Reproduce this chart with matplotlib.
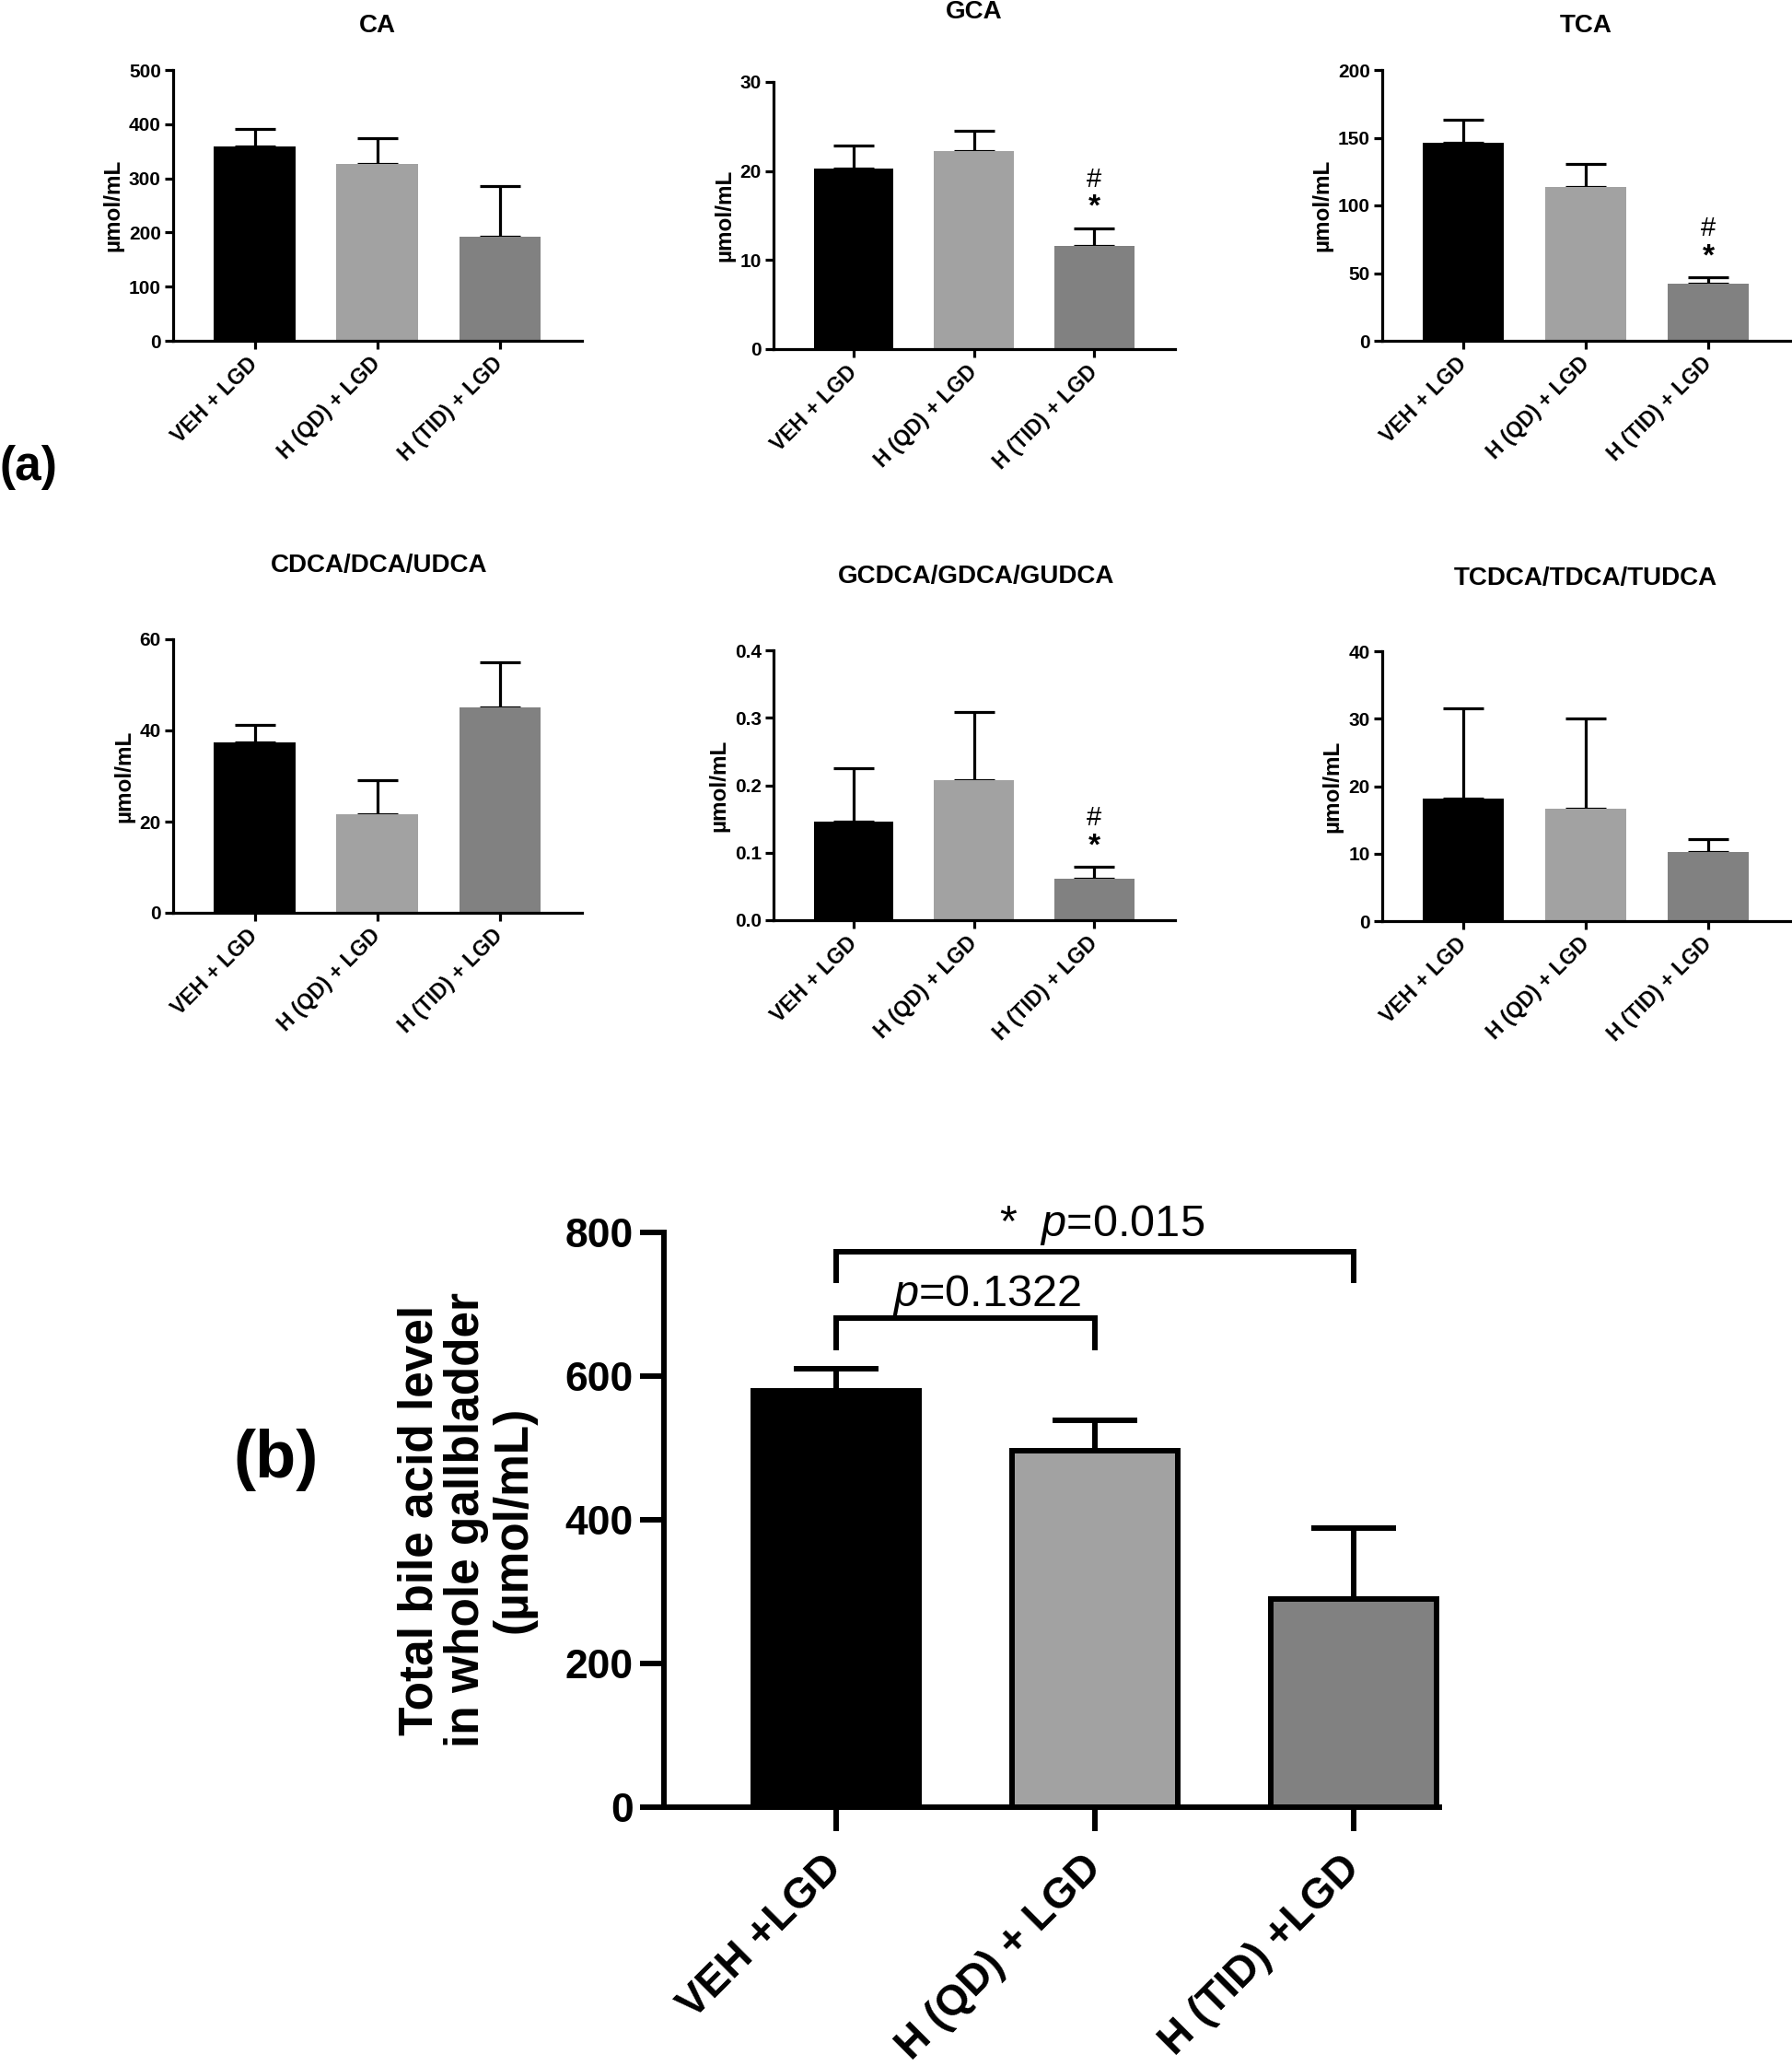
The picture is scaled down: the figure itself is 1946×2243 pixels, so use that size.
import matplotlib.pyplot as plt
import numpy as np
from matplotlib.ticker import FormatStrFormatter

plt.rcParams['font.family'] = ['Liberation Sans', 'DejaVu Sans']
plt.rcParams['font.weight'] = 'bold'
plt.rcParams['mathtext.fontset'] = 'custom'
plt.rcParams['mathtext.rm'] = 'Liberation Sans:normal'
plt.rcParams['mathtext.it'] = 'Liberation Sans:italic:normal'

# data
groups = ['VEH + LGD', 'H (QD) + LGD', 'H (TID) + LGD']
groups_b = ['VEH +LGD', 'H (QD) + LGD', 'H (TID) +LGD']
colors = ['#000000', '#a2a2a2', '#818181']

titles = ['CA', 'GCA', 'TCA', 'CDCA/DCA/UDCA', 'GCDCA/GDCA/GUDCA', 'TCDCA/TDCA/TUDCA']
ca = [358, 327, 192]
ca_err = [34, 47, 94]
gca = [20.3, 22.2, 11.6]
gca_err = [2.6, 2.3, 2.0]
tca = [146, 113.6, 42.1]
tca_err = [17, 17.3, 4.6]
cdca = [37.4, 21.6, 45.1]
cdca_err = [3.9, 7.5, 9.9]
gcdca = [0.146, 0.208, 0.061]
gcdca_err = [0.079, 0.100, 0.018]
tcdca = [18.1, 16.6, 10.2]
tcdca_err = [13.4, 13.4, 1.9]
ymax = [500, 30, 200, 60, 0.4, 40]
ystep = [100, 10, 50, 20, 0.1, 10]
signif = [False, True, True, False, True, False]   # "#" and "*" over the TID bar

total = [579, 496, 290]
total_err = [31, 42, 98]
br_low = (640, 681)    # p=0.1322 bracket (leg bottom, top)
br_high = (733, 773)   # p=0.015 bracket

means = [ca, gca, tca, cdca, gcdca, tcdca]
errs = [ca_err, gca_err, tca_err, cdca_err, gcdca_err, tcdca_err]

W, H = 1946, 2243
fig = plt.figure(figsize=(W / 100, H / 100), dpi=100)


def px_axes(l, t, r, b):
    return fig.add_axes([l / W, 1 - b / H, (r - l) / W, (b - t) / H])


boxes = [(188, 76, 632, 370), (840, 89, 1276, 379), (1501, 76, 1944, 370),
         (188, 694, 632, 991), (840, 706, 1276, 999), (1501, 707, 1944, 1000)]
title_pos = [(410, 28), (1058, 13), (1722, 28), (412, 614), (1060, 626), (1722, 628)]

x = np.arange(3)
for k in range(6):
    ax = px_axes(*boxes[k])
    ax.bar(x, means[k], width=0.664, color=colors, zorder=2)
    ax.errorbar(x, means[k], yerr=[[0, 0, 0], errs[k]], fmt='none', ecolor='black',
                elinewidth=2.3, capsize=15.5, capthick=2.3, zorder=1)
    ax.set_xlim(-0.665, 2.67)
    ax.set_ylim(0, ymax[k])
    ax.set_yticks(np.arange(0, ymax[k] + ystep[k] / 2, ystep[k]))
    ax.yaxis.set_major_formatter(FormatStrFormatter('%.1f' if ymax[k] < 1 else '%d'))
    for s in ['top', 'right']:
        ax.spines[s].set_visible(False)
    for s in ['left', 'bottom']:
        ax.spines[s].set_linewidth(2.3)
        ax.spines[s].set_capstyle('projecting')
    ax.tick_params(width=2.3, length=6.5, labelsize=15)
    ax.tick_params(axis='y', pad=3)
    ax.tick_params(axis='x', pad=9)
    ax.set_xticks(x, groups, rotation=45, ha='right', va='center',
                  rotation_mode='anchor', fontsize=16.5, fontweight='bold')
    for lab in ax.get_yticklabels():
        lab.set_fontweight('bold')
    ax.set_ylabel('µmol/mL', fontsize=17.5, fontweight='bold', labelpad=4)
    fig.text(title_pos[k][0] / W, 1 - title_pos[k][1] / H, titles[k],
             fontsize=20, fontweight='bold', ha='center', va='center')
    if signif[k]:
        top = means[k][2] + errs[k][2]
        ax.annotate('*', xy=(2, top), xytext=(0, 5), textcoords='offset points',
                    ha='center', va='bottom', fontsize=24, fontweight='bold')
        ax.annotate('#', xy=(2, top), xytext=(0, 28), textcoords='offset points',
                    ha='center', va='bottom', fontsize=21, fontweight='normal')

fig.text(0, 1 - 508 / H, '(a)', fontsize=37, fontweight='bold', ha='left', va='center')

# panel (b)
axb = px_axes(721, 1338, 1563, 1962)
axb.bar(x, total, width=0.64, color=colors, edgecolor='black', linewidth=4.3, zorder=2)
axb.errorbar(x, total, yerr=[[0, 0, 0], total_err], fmt='none', ecolor='black',
             elinewidth=4.3, capsize=33, capthick=4.3, zorder=1)
axb.set_xlim(-0.665, 2.33)
axb.set_ylim(0, 800)
axb.set_yticks([0, 200, 400, 600, 800])
for s in ['top', 'right']:
    axb.spines[s].set_visible(False)
for s in ['left', 'bottom']:
    axb.spines[s].set_linewidth(4.3)
    axb.spines[s].set_capstyle('projecting')
axb.tick_params(width=4.3, length=19, labelsize=32)
axb.tick_params(axis='y', pad=5)
axb.tick_params(axis='x', pad=24)
axb.set_xticks(x, groups_b, rotation=45, ha='right', va='center',
               rotation_mode='anchor', fontsize=33, fontweight='bold')
for lab in axb.get_yticklabels():
    lab.set_fontweight('bold')

axb.plot([0, 0, 1, 1], [br_low[0], br_low[1], br_low[1], br_low[0]], color='black',
         lw=4.3, solid_joinstyle='miter', clip_on=False)
axb.plot([0, 0, 2, 2], [br_high[0], br_high[1], br_high[1], br_high[0]], color='black',
         lw=4.3, solid_joinstyle='miter', clip_on=False)
axb.text(0.58, 697, r'$\it{p}$=0.1322', fontsize=35, fontweight='normal',
         ha='center', va='baseline')
axb.text(1.025, 795, r'*  $\it{p}$=0.015', fontsize=35, fontweight='normal',
         ha='center', va='baseline')

fig.text(507 / W, 1 - 1650 / H, 'Total bile acid level\nin whole gallbladder\n(µmol/mL)',
         rotation=90, fontsize=37, fontweight='bold', ha='center', va='center',
         multialignment='center', linespacing=1.05)
fig.text(300 / W, 1 - 1585 / H, '(b)', fontsize=52, fontweight='bold', ha='center', va='center')

fig.savefig('out.png', dpi=100)
